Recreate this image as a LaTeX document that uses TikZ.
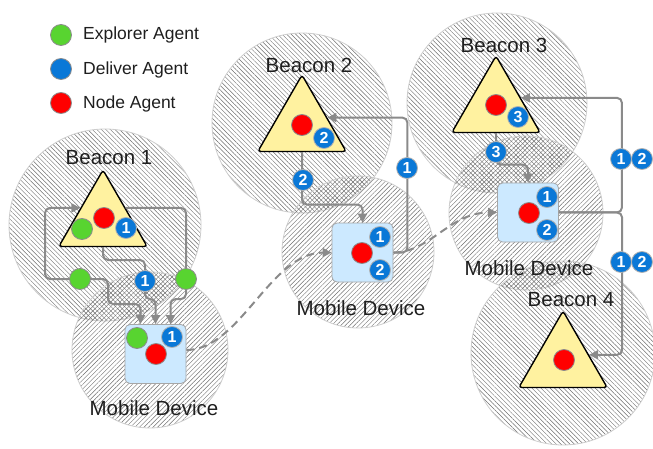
\documentclass[tikz,border=0pt]{standalone}
\usepackage{fontspec}
\setmainfont{Liberation Sans}
\usetikzlibrary{patterns.meta,arrows.meta,calc,shapes.geometric}
\definecolor{agreen}{RGB}{88,212,48}
\definecolor{ablue}{RGB}{10,120,215}
\definecolor{ared}{RGB}{255,0,0}
\definecolor{tyellow}{RGB}{255,242,160}
\definecolor{boxblue}{RGB}{204,233,255}
\definecolor{conngray}{RGB}{138,138,138}
\definecolor{txt}{RGB}{30,30,30}
\definecolor{hatchc}{RGB}{110,110,110}
\definecolor{rimc}{RGB}{205,205,205}
\begin{document}
\begin{tikzpicture}[x=1pt,y=-1pt,
  zoneB/.style={circle, inner sep=0pt, draw=rimc, line width=0.8pt, pattern={Lines[angle=-45,distance=3.2pt,line width=0.45pt]}, pattern color=hatchc},
  zoneM/.style={circle, inner sep=0pt, draw=rimc, line width=0.8pt, pattern={Lines[angle=45,distance=3.2pt,line width=0.45pt]}, pattern color=hatchc},
  tri/.style={regular polygon, regular polygon sides=3, minimum size=102pt, inner sep=0pt, draw=black, line width=1.4pt, fill=tyellow, rounded corners=3pt},
  dev/.style={rectangle, draw=black!35, line width=0.8pt, fill=boxblue, rounded corners=5pt, minimum width=61pt, minimum height=59pt, inner sep=0pt},
  agent/.style={circle, draw=black!45, line width=0.8pt, minimum size=21pt, inner sep=0pt},
  expl/.style={agent, fill=agreen},
  deliv/.style={agent, fill=ablue},
  nodeag/.style={agent, fill=ared},
  badge/.style={circle, draw=black!30, line width=0.8pt, fill=ablue, minimum size=21pt, inner sep=0pt, text=white, font=\fontsize{16}{16}\selectfont\bfseries},
  conn/.style={draw=conngray, line width=2pt, rounded corners=5pt},
  arr/.style={-{Triangle[length=9pt,width=9pt]}},
  dashc/.style={draw=conngray, line width=2pt, dash pattern=on 8pt off 5pt},
  lbl/.style={text=txt, font=\fontsize{20.5}{20.5}\selectfont, inner sep=0pt},
  leg/.style={text=txt, font=\fontsize{17.5}{17.5}\selectfont, inner sep=0pt, anchor=west}]
\useasboundingbox (0,0) rectangle (653,449);

% coverage zones
\node[zoneB, minimum size=192pt] (zB1) at (105,225) {};
\node[zoneM, minimum size=156pt] (zM1) at (150,350) {};
\node[zoneB, minimum size=180pt] (zB2) at (302,123) {};
\node[zoneM, minimum size=152pt] (zM2) at (358,252) {};
\node[zoneB, minimum size=180pt] (zB3) at (497,103) {};
\node[zoneM, minimum size=154pt] (zM3) at (526,213) {};
\node[zoneB, minimum size=184pt] (zB4) at (563,353) {};

% legend
\node[expl] (lg1) at (61,35) {};
\node[deliv] (lg2) at (61,69) {};
\node[nodeag] (lg3) at (61,103) {};
\node[leg] (lt1) at (83,35) {Explorer Agent};
\node[leg] (lt2) at (83,70) {Deliver Agent};
\node[leg] (lt3) at (83,104) {Node Agent};

% beacons and devices
\node[tri] (B1) at (103,221) {};
\node[tri] (B2) at (302,126) {};
\node[tri] (B3) at (496,107) {};
\node[tri] (B4) at (563,362) {};
\node[dev] (M1) at (155.5,354) {};
\node[dev] (M2) at (362.5,252.5) {};
\node[dev] (M3) at (528,212.5) {};

% agents inside
\node[expl] (a1) at (82,229) {};
\node[nodeag] (a2) at (104,218) {};
\node[expl] (a3) at (137,338) {};
\node[nodeag] (a4) at (156,354) {};
\node[nodeag] (a5) at (302,125) {};
\node[nodeag] (a6) at (362,253) {};
\node[nodeag] (a7) at (496,105) {};
\node[nodeag] (a8) at (529,213) {};
\node[nodeag] (a9) at (564,360) {};

% explorer agents on the way
\node[expl] (gL) at (80,279) {};
\node[expl] (gR) at (186,279) {};

% connectors around beacon 1
\draw[conn,arr] (gL.west) -| (45,208) -- ($(B1.corner 1)!0.5!(B1.corner 2)$);
\draw[conn,arr] (gL.east) -| (108,304) -| ($(M1.north)+(-15,0)$);
\draw[conn,arr] (B1.south) |- (145,260) |- ($(M1.north)+(0,-25)$) -- (M1.north);
\draw[conn] ($(B1.corner 1)!0.5!(B1.corner 3)$) -| (gR.north);
\draw[conn,arr] (gR.south) |- ($(M1.north)+(15,-25)$) -- ($(M1.north)+(15,0)$);

% beacon 2
\draw[conn,arr] (B2.south) |- ($(M2.north)+(0,-18)$) -- (M2.north);
\draw[conn,arr] (M2.east) -| ($(B2.corner 1)!0.56!(B2.corner 3)+(80,0)$) -- ($(B2.corner 1)!0.56!(B2.corner 3)$);

% beacon 3 and 4
\draw[conn,arr] (B3.south) |- ($(M3.north)+(0,-18)$) -- (M3.north);
\draw[conn,arr] (M3.east) -| ($(B3.corner 1)!0.55!(B3.corner 3)+(101,0)$) -- ($(B3.corner 1)!0.55!(B3.corner 3)$);
\draw[conn,arr] (M3.east) -| ($(B4.corner 1)!0.575!(B4.corner 3)+(33,0)$) -- ($(B4.corner 1)!0.575!(B4.corner 3)$);

% device movement
\draw[dashc,arr] ($(M1.east)+(0,-4)$) .. controls (240,350) and (270,253) .. (M2.west);
\draw[dashc,arr] (M2.east) .. controls (430,252.5) and (450,212.5) .. (M3.west);

% badges
\node[badge] (k1) at (126,228) {1};
\node[badge] (k2) at (145,281) {1};
\node[badge] (k3) at (172,337) {1};
\node[badge] (k4) at (324,138) {2};
\node[badge] (k5) at (303,180) {2};
\node[badge] (k6) at (407,168) {1};
\node[badge] (k7) at (380,237) {1};
\node[badge] (k8) at (380,270) {2};
\node[badge] (k9) at (518,117) {3};
\node[badge] (k10) at (496,152) {3};
\node[badge] (k11) at (547,197) {1};
\node[badge] (k12) at (547,230) {2};
\node[badge] (k13) at (621,159) {1};
\node[badge] (k14) at (642,159) {2};
\node[badge] (k15) at (621,262) {1};
\node[badge] (k16) at (642,262) {2};

% labels
\node[lbl] (t1) at (109,158) {Beacon 1};
\node[lbl] (t2) at (309,65) {Beacon 2};
\node[lbl] (t3) at (504,45) {Beacon 3};
\node[lbl] (t4) at (571,300) {Beacon 4};
\node[lbl] (t5) at (154,408) {Mobile Device};
\node[lbl] (t6) at (361,308) {Mobile Device};
\node[lbl] (t7) at (529,268) {Mobile Device};
\end{tikzpicture}
\end{document}
